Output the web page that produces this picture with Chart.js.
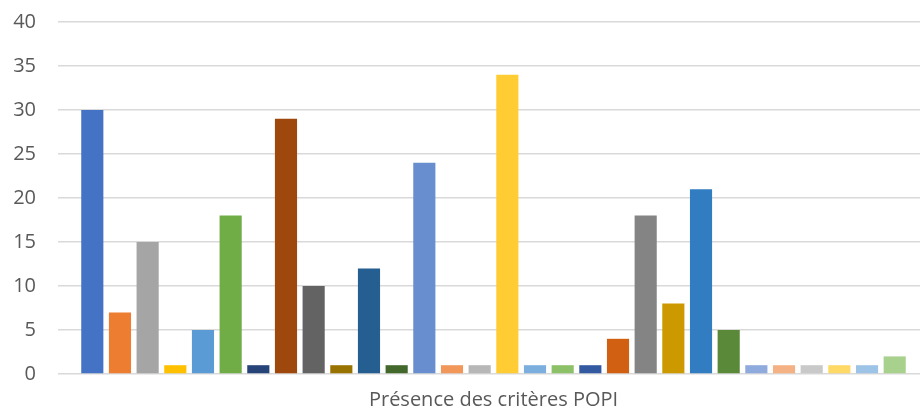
<!DOCTYPE html>
<html>
<head>
<meta charset="utf-8">
<script src="https://cdn.jsdelivr.net/npm/chart.js@4.4.0/dist/chart.umd.min.js"></script>
<style>
    html, body { margin: 0; padding: 0; background: #fff; overflow: hidden; }
    #wrap { width: 920px; height: 414px; overflow: hidden; }
    #box { width: 929px; height: 426px; margin-top: -12px; position: relative; }
</style>
</head>
<body>
<div id="wrap"><div id="box"><canvas id="popiChart"></canvas></div></div>
<script>
// Une seule catégorie, 30 séries (comme dans Excel)
const categories = ['Présence des critères POPI'];
const values = [30, 7, 15, 1, 5, 18, 1, 29, 10, 1, 12, 1, 24, 1, 1, 34, 1, 1, 1, 4, 18, 8, 21, 5, 1, 1, 1, 1, 1, 2];
const colors = [
    '#4472C4', '#ED7D31', '#A5A5A5', '#FFC000', '#5B9BD5', '#70AD47',
    '#264478', '#9E480E', '#636363', '#997300', '#255E91', '#43682B',
    '#698ED0', '#F1975A', '#B7B7B7', '#FFCD33', '#7CAFDD', '#8CC168',
    '#335AA1', '#D26012', '#848484', '#CC9A00', '#327DC2', '#5A8A39',
    '#8FAADC', '#F4B183', '#C9C9C9', '#FFD966', '#9DC3E6', '#A9D18E'
];
const yTicks = [0, 5, 10, 15, 20, 25, 30, 35, 40];

const datasets = values.map((v, i) => ({
    label: 'Série ' + (i + 1),
    data: [v],
    backgroundColor: colors[i],
    borderWidth: 0,
    barPercentage: 0.8,
    categoryPercentage: 0.953
}));

const ctx = document.getElementById('popiChart').getContext('2d');
new Chart(ctx, {
    type: 'bar',
    data: {
        labels: categories,
        datasets: datasets
    },
    options: {
        responsive: true,
        maintainAspectRatio: false,
        animation: false,
        layout: {
            padding: { top: 0, left: 0, right: 0, bottom: 0 }
        },
        plugins: {
            legend: { display: false },
            tooltip: { enabled: false }
        },
        scales: {
            x: {
                grid: { display: false, drawTicks: false },
                border: { display: false },
                ticks: {
                    color: '#595959',
                    padding: 14,
                    font: { family: 'Open Sans', size: 20 }
                },
                afterFit: axis => { axis.height = 40; }
            },
            y: {
                min: 0,
                max: 40,
                afterBuildTicks: axis => {
                    axis.ticks = yTicks.map(v => ({ value: v }));
                },
                grid: {
                    color: '#d9d9d9',
                    lineWidth: 1.5,
                    drawTicks: false
                },
                border: { display: false },
                ticks: {
                    color: '#595959',
                    padding: 22,
                    font: { family: 'Open Sans', size: 20 }
                },
                afterFit: axis => { axis.width = 58; }
            }
        }
    }
});
</script>
</body>
</html>
